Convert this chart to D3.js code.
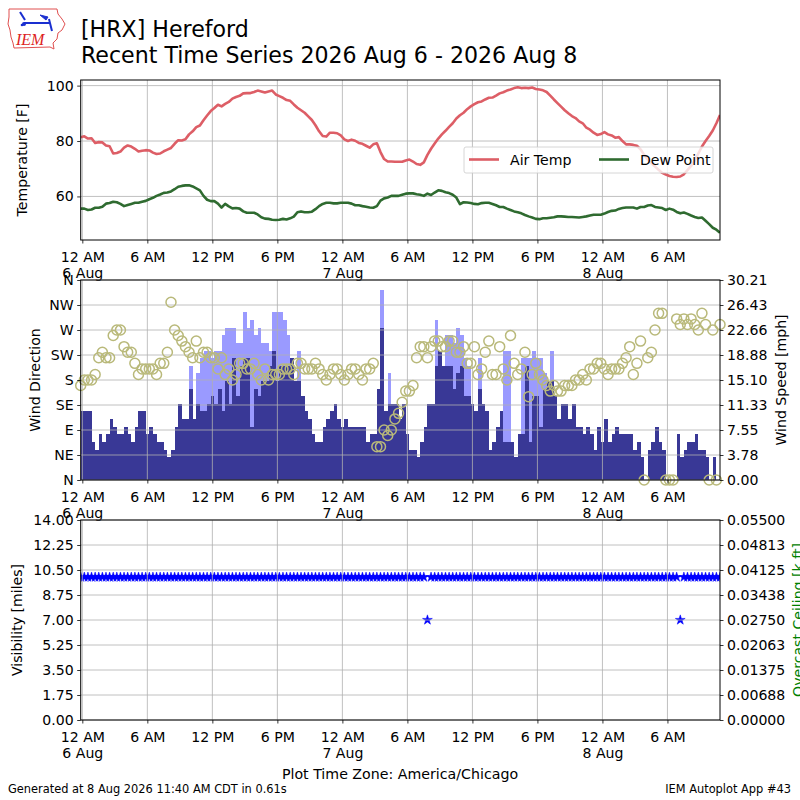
<!DOCTYPE html>
<html>
<head>
<meta charset="utf-8">
<script src="https://cdn.jsdelivr.net/npm/d3@7"></script>
<style>
  body { margin: 0; background: #fff; }
  svg { font-family: "DejaVu Sans", sans-serif; }
</style>
</head>
<body>
<div id="chart"></div>
<script>
'use strict';

// Observations every 20 minutes, first one at 11:51 PM on 5 Aug
const obsStart = Date.UTC(2026, 7, 5, 23, 51);
const obsStepMinutes = 20;

// Air temperature [F]
const airTemp = [
  81.4, 81.7, 80.9, 81.0, 79.3, 79.6, 79.5, 78.4, 78.1, 75.5,
  75.7, 76.2, 77.6, 78.4, 78.0, 77.2, 76.2, 76.5, 76.7, 76.6,
  75.8, 75.3, 75.5, 76.3, 76.9, 77.5, 79.0, 80.3, 80.2, 80.6,
  82.4, 83.5, 85.0, 85.6, 87.5, 89.2, 90.8, 91.9, 93.1, 92.5,
  93.4, 94.1, 95.3, 95.9, 96.3, 97.2, 97.3, 97.3, 97.7, 98.2,
  97.9, 97.5, 97.9, 98.2, 96.8, 96.2, 95.6, 94.8, 94.5, 93.2,
  92.0, 91.1, 90.2, 88.9, 87.6, 85.7, 83.5, 81.8, 81.6, 83.0,
  83.0, 82.8, 82.0, 80.6, 80.0, 80.5, 80.1, 79.3, 79.0, 78.3,
  77.6, 78.8, 79.2, 76.0, 73.5, 72.6, 72.6, 72.5, 72.5, 72.5,
  73.0, 73.3, 72.6, 71.7, 71.4, 72.3, 75.0, 77.2, 79.1, 80.9,
  82.4, 83.7, 85.1, 86.4, 88.1, 89.3, 90.2, 91.5, 92.5, 93.3,
  94.0, 94.3, 95.0, 95.6, 95.7, 96.4, 97.2, 97.6, 98.2, 98.6,
  99.1, 99.4, 99.1, 99.2, 99.1, 99.3, 98.8, 98.6, 98.3, 97.7,
  96.4, 95.0, 93.7, 92.4, 91.1, 90.0, 89.0, 88.3, 87.1, 86.4,
  84.8, 84.1, 83.0, 82.2, 82.5, 83.2, 82.4, 82.0, 81.2, 81.4,
  80.0, 78.8, 78.8, 78.6, 78.3, 77.0, 75.0, 73.3, 72.0, 70.8,
  69.6, 68.5, 67.9, 67.4, 67.1, 67.0, 67.2, 68.0, 69.5, 71.0,
  73.0, 75.5, 78.0, 80.0, 81.8, 83.8, 86.4, 89.4
];

// Dew point [F]
const dewPoint = [
  55.6, 55.6, 55.1, 55.3, 55.9, 55.9, 56.3, 57.4, 57.6, 58.1,
  57.9, 57.3, 56.5, 56.9, 57.3, 57.7, 57.7, 58.1, 58.4, 59.0,
  59.5, 60.2, 60.7, 61.3, 61.4, 61.8, 62.6, 63.5, 63.8, 64.0,
  64.0, 63.6, 62.9, 62.2, 60.2, 58.8, 58.3, 58.3, 57.4, 56.0,
  57.3, 56.4, 55.7, 55.8, 55.6, 54.6, 54.1, 54.1, 54.1, 53.5,
  52.5, 52.0, 51.9, 51.6, 51.5, 51.6, 51.9, 51.7, 52.1, 52.7,
  54.3, 54.6, 54.3, 54.3, 54.5, 55.4, 56.5, 57.3, 57.7, 57.7,
  57.5, 57.5, 57.7, 57.7, 57.7, 57.4, 56.8, 56.8, 56.5, 56.3,
  56.0, 55.9, 56.5, 58.5, 59.3, 59.6, 60.2, 60.2, 60.2, 60.6,
  61.0, 61.1, 61.1, 60.8, 60.6, 60.2, 61.0, 60.5, 61.4, 62.2,
  62.0, 61.5, 61.2, 60.6, 59.6, 57.2, 57.9, 57.8, 57.6, 57.3,
  57.2, 57.6, 57.7, 57.7, 57.3, 56.8, 56.2, 56.2, 55.6, 55.1,
  54.6, 54.3, 53.9, 53.3, 52.8, 52.4, 51.9, 51.8, 52.1, 52.1,
  52.3, 52.5, 52.8, 52.8, 52.7, 52.6, 52.6, 52.5, 52.4, 52.6,
  52.8, 53.1, 53.4, 53.4, 53.4, 53.8, 54.4, 54.8, 54.9, 55.5,
  55.8, 56.0, 56.0, 56.0, 55.6, 56.2, 56.2, 56.7, 56.9, 56.2,
  56.0, 55.8, 55.1, 55.6, 55.2, 54.4, 53.9, 54.2, 53.7, 53.1,
  52.6, 52.2, 52.4, 51.2, 50.0, 48.7, 48.0, 46.9
];

// Wind direction [deg], 0 when calm
const windDir = [
  170, 180, 180, 180, 190, 220, 230, 220, 220, 260,
  270, 270, 240, 230, 230, 210, 190, 200, 200, 200,
  200, 190, 210, 210, 230, 320, 270, 260, 250, 240,
  230, 220, 250, 220, 230, 230, 220, 220, 200, 220,
  190, 200, 180, 190, 210, 210, 200, 200, 210, 190,
  180, 200, 180, 190, 190, 190, 200, 200, 200, 190,
  210, 210, 200, 200, 200, 210, 200, 190, 180, 190,
  200, 200, 190, 180, 190, 200, 200, 190, 180, 200,
  200, 210, 60, 60, 90, 80, 90, 110, 120, 140,
  160, 160, 170, 220, 240, 240, 220, 240, 250, 250,
  240, 240, 250, 250, 230, 230, 240, 210, 210, 240,
  190, 200, 230, 250, 190, 190, 240, 200, 180, 260,
  210, 190, 200, 230, 150, 190, 210, 190, 180, 170,
  160, 170, 160, 160, 170, 170, 170, 180, 180, 190,
  180, 200, 200, 210, 210, 200, 190, 200, 200, 200,
  210, 220, 240, 190, 210, 250, 0, 220, 230, 270,
  300, 300, 0, 0, 0, 290, 280, 290, 280, 290,
  280, 270, 300, 280, 0, 270, 0, 280
];

// Wind speed [mph]
const windSpeed = [
  10.36, 10.36, 10.36, 5.75, 4.6, 6.9, 5.75, 6.9, 9.2, 8.05,
  6.9, 6.9, 8.05, 6.9, 5.75, 8.05, 10.36, 10.36, 6.9, 8.05,
  6.9, 5.75, 5.75, 4.6, 3.45, 4.6, 8.05, 11.5, 9.2, 9.2,
  13.81, 9.2, 11.5, 10.36, 10.36, 11.5, 12.66, 11.5, 13.81, 10.36,
  14.96, 11.5, 18.41, 12.66, 17.26, 18.41, 18.41, 8.05, 13.81, 12.66,
  14.96, 14.96, 17.26, 19.56, 14.96, 17.26, 17.26, 17.26, 18.41, 14.96,
  14.96, 12.66, 10.36, 9.2, 6.9, 5.75, 5.75, 8.05, 9.2, 10.36,
  11.5, 9.2, 8.05, 9.2, 8.05, 8.05, 8.05, 8.05, 8.05, 5.75,
  6.9, 6.9, 13.81, 23.02, 10.36, 11.5, 11.5, 11.5, 9.2, 11.5,
  6.9, 4.6, 4.6, 3.45, 5.75, 8.05, 11.5, 11.5, 17.26, 19.56,
  17.26, 17.26, 17.26, 13.81, 16.11, 17.26, 12.66, 12.66, 11.5, 10.36,
  13.81, 11.5, 10.36, 4.6, 5.75, 8.05, 10.36, 5.75, 5.75, 5.75,
  3.45, 6.9, 6.9, 17.26, 5.75, 12.66, 12.66, 8.05, 13.81, 14.96,
  14.96, 12.66, 9.2, 11.5, 11.5, 9.2, 11.5, 8.05, 8.05, 6.9,
  8.05, 6.9, 4.6, 8.05, 5.75, 9.2, 5.75, 6.9, 8.05, 6.9,
  6.9, 6.9, 6.9, 4.6, 5.75, 3.45, 0, 4.6, 5.75, 8.05,
  5.75, 4.6, 0, 0, 0, 6.9, 3.45, 4.6, 5.75, 5.75,
  6.9, 4.6, 4.6, 3.45, 0, 3.45, 0, 3.45
];

// Wind gust [mph], 0 when no gust reported
const windGust = [
  0, 0, 0, 0, 0, 0, 0, 0, 0, 0,
  0, 0, 0, 0, 0, 0, 0, 0, 0, 0,
  0, 0, 0, 0, 0, 0, 0, 0, 0, 0,
  17.26, 0, 16.11, 18.41, 19.56, 19.56, 18.41, 19.56, 19.56, 21.86,
  23.02, 23.02, 23.02, 20.71, 20.71, 25.32, 23.02, 24.17, 21.86, 23.02,
  20.71, 20.71, 19.56, 25.32, 25.32, 25.32, 24.17, 21.86, 0, 0,
  19.56, 0, 0, 0, 0, 0, 0, 0, 0, 0,
  0, 0, 0, 0, 0, 0, 0, 0, 0, 0,
  0, 0, 0, 28.77, 0, 16.11, 0, 0, 0, 0,
  0, 0, 0, 0, 0, 0, 0, 0, 24.17, 0,
  0, 21.86, 21.86, 20.71, 23.02, 21.86, 18.41, 17.26, 0, 0,
  18.41, 0, 0, 0, 0, 0, 0, 19.56, 19.56, 0,
  0, 0, 18.41, 18.41, 18.41, 19.56, 18.41, 18.41, 16.11, 0,
  19.56, 0, 0, 0, 0, 0, 0, 0, 0, 0,
  0, 0, 0, 0, 0, 0, 0, 0, 0, 0,
  0, 0, 0, 0, 0, 0, 0, 0, 0, 0,
  0, 0, 0, 0, 0, 0, 0, 0, 0, 0,
  0, 0, 0, 0, 0, 0, 0, 0
];

// Visibility [miles]
const visibility = [
  10, 10, 10, 10, 10, 10, 10, 10, 10, 10,
  10, 10, 10, 10, 10, 10, 10, 10, 10, 10,
  10, 10, 10, 10, 10, 10, 10, 10, 10, 10,
  10, 10, 10, 10, 10, 10, 10, 10, 10, 10,
  10, 10, 10, 10, 10, 10, 10, 10, 10, 10,
  10, 10, 10, 10, 10, 10, 10, 10, 10, 10,
  10, 10, 10, 10, 10, 10, 10, 10, 10, 10,
  10, 10, 10, 10, 10, 10, 10, 10, 10, 10,
  10, 10, 10, 10, 10, 10, 10, 10, 10, 10,
  10, 10, 10, 10, 10, 10, 7, 10, 10, 10,
  10, 10, 10, 10, 10, 10, 10, 10, 10, 10,
  10, 10, 10, 10, 10, 10, 10, 10, 10, 10,
  10, 10, 10, 10, 10, 10, 10, 10, 10, 10,
  10, 10, 10, 10, 10, 10, 10, 10, 10, 10,
  10, 10, 10, 10, 10, 10, 10, 10, 10, 10,
  10, 10, 10, 10, 10, 10, 10, 10, 10, 10,
  10, 10, 10, 10, 10, 10, 7, 10, 10, 10,
  10, 10, 10, 10, 10, 10, 10, 10
];

// Tick labels
const xTickLabels = ["12 AM\n6 Aug", "6 AM", "12 PM", "6 PM", "12 AM\n7 Aug",
                     "6 AM", "12 PM", "6 PM", "12 AM\n8 Aug", "6 AM"];
const tempTicks = [60, 80, 100];
const dirTickLabels = ["N", "NE", "E", "SE", "S", "SW", "W", "NW", "N"];
const speedTickLabels = ["0.00", "3.78", "7.55", "11.33", "15.10", "18.88", "22.66", "26.43", "30.21"];
const visTickLabels = ["0.00", "1.75", "3.50", "5.25", "7.00", "8.75", "10.50", "12.25", "14.00"];
const ceilTickLabels = ["0.00000", "0.00688", "0.01375", "0.02063", "0.02750",
                        "0.03438", "0.04125", "0.04813", "0.05500"];

(function() {
    const W = 800, H = 800;
    const plotLeft = 80.7, plotRight = 720;
    const tempPanel = { top: 80, bottom: 240 };
    const windPanel = { top: 280, bottom: 480 };
    const visPanel = { top: 520, bottom: 720 };
    const fs = 14.1;
    const gridColor = "#b0b0b0";

    const svg = d3.select("#chart").append("svg")
        .attr("width", W)
        .attr("height", H);

    const times = airTemp.map(function(d, i) {
        return new Date(obsStart + i * obsStepMinutes * 60000);
    });
    const step = obsStepMinutes * 60000;

    // Shared time scale
    const x = d3.scaleUtc()
        .domain([times[0], times[times.length - 1]])
        .range([plotLeft, plotRight]);
    const xTicks = d3.utcHour.every(6).range(times[0], times[times.length - 1]);

    function clipFor(id, panel) {
        svg.append("clipPath").attr("id", id)
            .append("rect")
                .attr("x", plotLeft)
                .attr("y", panel.top)
                .attr("width", plotRight - plotLeft)
                .attr("height", panel.bottom - panel.top);
    }

    function drawGrid(panel, y, yValues) {
        const g = svg.append("g")
            .attr("stroke", gridColor)
            .attr("stroke-width", 0.8);
        xTicks.forEach(function(t) {
            g.append("line")
                .attr("x1", x(t)).attr("x2", x(t))
                .attr("y1", panel.top).attr("y2", panel.bottom);
        });
        yValues.forEach(function(v) {
            g.append("line")
                .attr("x1", plotLeft).attr("x2", plotRight)
                .attr("y1", y(v)).attr("y2", y(v));
        });
    }

    function drawFrame(panel) {
        svg.append("rect")
            .attr("x", plotLeft)
            .attr("y", panel.top)
            .attr("width", plotRight - plotLeft)
            .attr("height", panel.bottom - panel.top)
            .attr("fill", "none")
            .attr("stroke", "#000")
            .attr("stroke-width", 1);
    }

    function styleAxis(ax) {
        ax.select(".domain").remove();
        ax.selectAll(".tick line").attr("stroke", "#000").attr("stroke-width", 0.8);
        ax.selectAll(".tick text")
            .attr("fill", "#000")
            .attr("font-size", fs)
            .attr("font-family", "DejaVu Sans");
    }

    function drawXAxis(panel) {
        const ax = svg.append("g")
            .attr("transform", "translate(0," + panel.bottom + ")")
            .call(d3.axisBottom(x).tickValues(xTicks).tickSize(3.5).tickPadding(8.5).tickFormat(""));
        styleAxis(ax);
        ax.selectAll(".tick text").each(function(d, i) {
            const t = d3.select(this).attr("dy", null);
            xTickLabels[i].split("\n").forEach(function(line, k) {
                t.append("tspan")
                    .attr("x", 0)
                    .attr("dy", k === 0 ? "0.71em" : "1.15em")
                    .text(line);
            });
        });
    }

    function drawYAxis(y, values, labels, side) {
        const maker = side === "left" ? d3.axisLeft(y) : d3.axisRight(y);
        const ax = svg.append("g")
            .attr("transform", "translate(" + (side === "left" ? plotLeft : plotRight) + ",0)")
            .call(maker.tickValues(values).tickSize(3.5).tickPadding(3.5)
                .tickFormat(function(d, i) { return labels[i]; }));
        styleAxis(ax);
    }

    function axisTitle(text, xPos, yCenter, color) {
        svg.append("text")
            .attr("transform", "translate(" + xPos + "," + yCenter + ") rotate(-90)")
            .attr("text-anchor", "middle")
            .attr("font-size", fs)
            .attr("fill", color || "#000")
            .text(text);
    }

    // ---------- Temperature panel ----------
    const tLo = d3.min(dewPoint), tHi = d3.max(airTemp);
    const tPad = (tHi - tLo) * 0.05;
    const yTemp = d3.scaleLinear()
        .domain([tLo - tPad, tHi + tPad])
        .range([tempPanel.bottom, tempPanel.top]);

    clipFor("clipTemp", tempPanel);
    drawGrid(tempPanel, yTemp, tempTicks);

    const line = d3.line()
        .x(function(d, i) { return x(times[i]); })
        .y(function(d) { return yTemp(d); });

    const tempG = svg.append("g").attr("clip-path", "url(#clipTemp)");
    tempG.append("path")
        .datum(dewPoint)
        .attr("d", line)
        .attr("fill", "none")
        .attr("stroke", "#2f6b30")
        .attr("stroke-width", 2.6)
        .attr("stroke-linejoin", "round");
    tempG.append("path")
        .datum(airTemp)
        .attr("d", line)
        .attr("fill", "none")
        .attr("stroke", "#dd5e66")
        .attr("stroke-width", 2.6)
        .attr("stroke-linejoin", "round");

    drawFrame(tempPanel);
    drawXAxis(tempPanel);
    drawYAxis(yTemp, tempTicks, tempTicks.map(String), "left");
    axisTitle("Temperature [F]", 27, (tempPanel.top + tempPanel.bottom) / 2);

    // Legend
    const legend = svg.append("g").attr("transform", "translate(464,147)");
    legend.append("rect")
        .attr("width", 249).attr("height", 26)
        .attr("rx", 2)
        .attr("fill", "#fff").attr("fill-opacity", 0.8)
        .attr("stroke", "#cccccc").attr("stroke-width", 0.8);
    [["Air Temp", "#dd5e66", 5], ["Dew Point", "#2f6b30", 135]].forEach(function(e) {
        legend.append("line")
            .attr("x1", e[2]).attr("x2", e[2] + 30)
            .attr("y1", 12.5).attr("y2", 12.5)
            .attr("stroke", e[1]).attr("stroke-width", 2.6);
        legend.append("text")
            .attr("x", e[2] + 41).attr("y", 17.5)
            .attr("font-size", fs)
            .text(e[0]);
    });

    // ---------- Wind panel ----------
    const yDir = d3.scaleLinear().domain([0, 360]).range([windPanel.bottom, windPanel.top]);
    const speedMax = d3.max(windGust.concat(windSpeed)) * 1.05;
    const ySpeed = d3.scaleLinear().domain([0, speedMax]).range([windPanel.bottom, windPanel.top]);
    const dirTicks = dirTickLabels.map(function(d, i) { return i * 45; });
    const speedTicks = speedTickLabels.map(function(d, i) { return speedMax * i / 8; });

    clipFor("clipWind", windPanel);
    const windG = svg.append("g").attr("clip-path", "url(#clipWind)");

    // Gust bars (behind sustained speed)
    const gustG = windG.append("g").attr("fill", "#9a9aff").attr("shape-rendering", "crispEdges");
    windGust.forEach(function(v, i) {
        if (v <= 0) return;
        const t = times[i];
        gustG.append("rect")
            .attr("x", x(t))
            .attr("width", x(new Date(+t + step)) - x(t))
            .attr("y", ySpeed(v))
            .attr("height", ySpeed(0) - ySpeed(v));
    });

    // Sustained speed bars
    windG.append("g")
        .attr("fill", "#393896")
        .attr("shape-rendering", "crispEdges")
        .selectAll("rect")
        .data(windSpeed)
        .enter()
        .append("rect")
            .attr("x", function(d, i) { return x(times[i]); })
            .attr("width", function(d, i) { return x(new Date(+times[i] + step)) - x(times[i]); })
            .attr("y", function(d) { return ySpeed(d); })
            .attr("height", function(d) { return ySpeed(0) - ySpeed(d); });

    drawGrid(windPanel, yDir, dirTicks);

    // Direction markers
    svg.append("g")
        .selectAll("circle")
        .data(windDir)
        .enter()
        .append("circle")
            .attr("cx", function(d, i) { return x(times[i]); })
            .attr("cy", function(d) { return yDir(d); })
            .attr("r", 5)
            .attr("fill", "none")
            .attr("stroke", "#b9b97a")
            .attr("stroke-width", 1.5);

    drawFrame(windPanel);
    drawXAxis(windPanel);
    drawYAxis(yDir, dirTicks, dirTickLabels, "left");
    drawYAxis(ySpeed, speedTicks, speedTickLabels, "right");
    axisTitle("Wind Direction", 40, (windPanel.top + windPanel.bottom) / 2);
    axisTitle("Wind Speed [mph]", 786, (windPanel.top + windPanel.bottom) / 2);

    // ---------- Visibility panel ----------
    const yVis = d3.scaleLinear().domain([0, 14]).range([visPanel.bottom, visPanel.top]);
    const yCeil = d3.scaleLinear().domain([0, 0.055]).range([visPanel.bottom, visPanel.top]);
    const visTicks = visTickLabels.map(function(d) { return +d; });
    const ceilTicks = ceilTickLabels.map(function(d, i) { return 0.055 * i / 8; });

    clipFor("clipVis", visPanel);
    const star = d3.symbol().type(d3.symbolStar).size(30);
    svg.append("g")
        .attr("clip-path", "url(#clipVis)")
        .selectAll("path")
        .data(visibility)
        .enter()
        .append("path")
            .attr("d", star)
            .attr("transform", function(d, i) {
                return "translate(" + x(times[i]) + "," + yVis(d) + ")";
            })
            .attr("fill", "#0000ff")
            .attr("stroke", "#0000ff")
            .attr("stroke-width", 0.5);

    drawGrid(visPanel, yVis, visTicks);
    drawFrame(visPanel);
    drawXAxis(visPanel);
    drawYAxis(yVis, visTicks, visTickLabels, "left");
    drawYAxis(yCeil, ceilTicks, ceilTickLabels, "right");
    axisTitle("Visibility [miles]", 22, (visPanel.top + visPanel.bottom) / 2);
    axisTitle("Overcast Ceiling [k ft]", 803, (visPanel.top + visPanel.bottom) / 2, "#008000");

    // ---------- Titles and footer ----------
    svg.append("text").attr("x", 81).attr("y", 37).attr("font-size", 22.1).text("[HRX] Hereford");
    svg.append("text").attr("x", 81).attr("y", 63).attr("font-size", 22.1)
        .text("Recent Time Series 2026 Aug 6 - 2026 Aug 8");
    svg.append("text").attr("x", 400).attr("y", 779).attr("text-anchor", "middle")
        .attr("font-size", 14.2).text("Plot Time Zone: America/Chicago");
    svg.append("text").attr("x", 8).attr("y", 793).attr("font-size", 11.4)
        .text("Generated at 8 Aug 2026 11:40 AM CDT in 0.61s");
    svg.append("text").attr("x", 791).attr("y", 793).attr("text-anchor", "end")
        .attr("font-size", 11.4).text("IEM Autoplot App #43");

    // ---------- IEM logo ----------
    const logo = svg.append("g");
    logo.append("path")
        .attr("d", "M9,9 L57,9 L58,14 L62,19 L65,24 L62,30 L58,33 L57,39 L53,43 L54,49 L50,47 L14,48 L13,43 L11,37 L10,30 L8,24 L9,17 Z")
        .attr("fill", "none")
        .attr("stroke", "#e05050")
        .attr("stroke-width", 1);
    const vane = logo.append("g").attr("stroke", "#1a2fd0").attr("stroke-width", 2).attr("fill", "#1a2fd0");
    vane.append("line").attr("x1", 24).attr("y1", 23).attr("x2", 50).attr("y2", 23);
    vane.append("line").attr("x1", 20).attr("y1", 12).attr("x2", 25).attr("y2", 20);
    vane.append("line").attr("x1", 49).attr("y1", 19).attr("x2", 52).attr("y2", 31);
    vane.append("path").attr("d", "M40,15 L48,17 L46,20 Z").attr("stroke-width", 1);
    vane.append("circle").attr("cx", 24).attr("cy", 24).attr("r", 2).attr("stroke", "none");
    vane.append("circle").attr("cx", 22).attr("cy", 25).attr("r", 1.3).attr("stroke", "none");
    logo.append("text")
        .attr("x", 16).attr("y", 45)
        .attr("font-family", "Liberation Serif, serif")
        .attr("font-style", "italic")
        .attr("font-size", 16)
        .attr("fill", "#dd2222")
        .text("IEM");
})();
</script>
</body>
</html>
